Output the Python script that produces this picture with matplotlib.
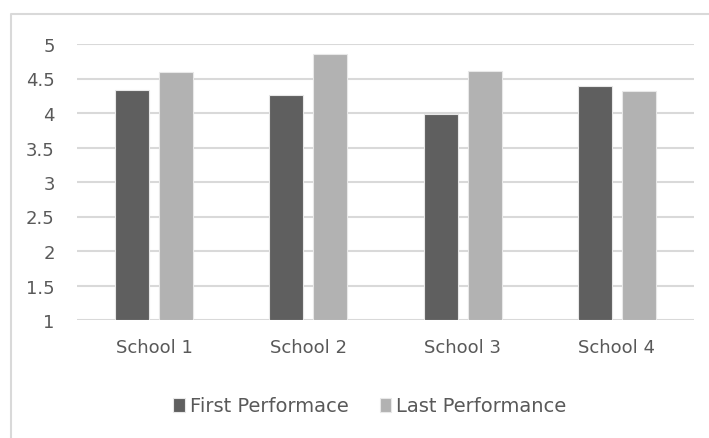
import matplotlib
matplotlib.use("Agg")
import matplotlib.pyplot as plt
from matplotlib.lines import Line2D
import numpy as np

schools = ["School 1", "School 2", "School 3", "School 4"]
first_perf = [4.34, 4.26, 3.99, 4.39]
last_perf = [4.59, 4.86, 4.61, 4.32]
yticks = [1, 1.5, 2, 2.5, 3, 3.5, 4, 4.5, 5]

plt.rcParams['font.family'] = ['DejaVu Sans Condensed', 'DejaVu Sans']

fig = plt.figure(figsize=(7.09, 4.39), dpi=100)
ax = fig.add_axes([77 / 709, 1 - 321 / 439, 617 / 709, 276 / 439])

# outer chart border: only the left and top edges show in the screenshot
bx, by = 11 / 709, 1 - 15 / 439
fig.lines.append(Line2D([bx, bx, 1.0], [0.0, by, by], transform=fig.transFigure,
                        color="#d9d9d9", linewidth=1.5))

x = np.arange(len(schools))
w = 0.22
off = 0.143
ax.bar(x - off, np.array(first_perf) - 1, w, bottom=1, color="#5f5f5f",
       edgecolor="#e8e8e8", linewidth=0.8, label="First Performace", zorder=3)
ax.bar(x + off, np.array(last_perf) - 1, w, bottom=1, color="#b2b2b2",
       edgecolor="#e8e8e8", linewidth=0.8, label="Last Performance", zorder=3)

ax.set_xlim(-0.5, 3.5)
ax.set_ylim(1, 5)
ax.set_yticks(yticks)
ax.set_yticklabels(["1", "1.5", "2", "2.5", "3", "3.5", "4", "4.5", "5"])
ax.set_xticks(x)
ax.set_xticklabels(schools)
ax.grid(axis="y", color="#d9d9d9", linewidth=1.5, zorder=0)
for s in ax.spines.values():
    s.set_visible(False)
ax.tick_params(length=0, labelsize=13, labelcolor="#595959")
ax.tick_params(axis="y", pad=16)
ax.tick_params(axis="x", pad=13)

leg = fig.legend(loc="center", bbox_to_anchor=(370 / 709, 1 - 407 / 439), ncol=2,
                 frameon=False, fontsize=14, handlelength=0.6, handleheight=0.75,
                 handletextpad=0.25, columnspacing=1.6)
for t in leg.get_texts():
    t.set_color("#595959")

plt.savefig("out.png", dpi=100)
